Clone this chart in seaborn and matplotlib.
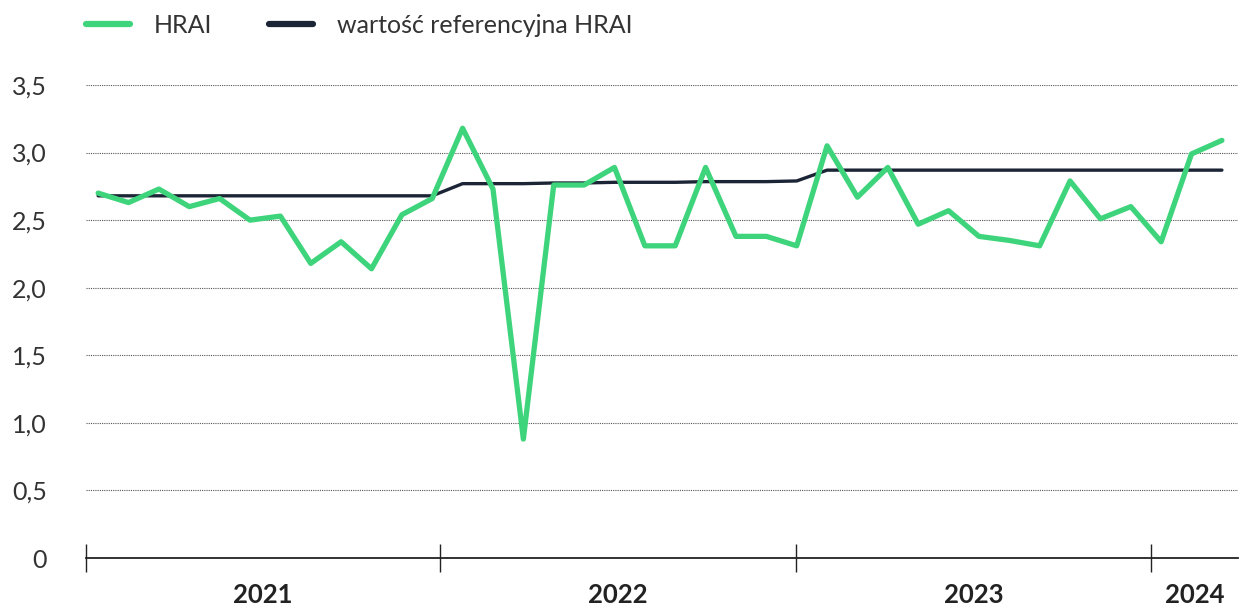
import numpy as np
import pandas as pd
import seaborn as sns
import matplotlib.pyplot as plt
from matplotlib.lines import Line2D

# monthly HRAI values, Jan 2021 - Feb 2024
hrai = [2.70, 2.63, 2.73, 2.60, 2.66, 2.50, 2.53, 2.18, 2.34, 2.14, 2.54, 2.66,
        3.18, 2.73, 0.88, 2.76, 2.76, 2.89, 2.31, 2.31, 2.89, 2.38, 2.38, 2.31,
        3.05, 2.67, 2.89, 2.47, 2.57, 2.38, 2.35, 2.31, 2.79, 2.51, 2.60, 2.34,
        2.99, 3.09]
ref = [2.68] * 12 + \
      [2.77, 2.77, 2.77, 2.775, 2.775, 2.78, 2.78, 2.78, 2.785, 2.785, 2.785, 2.79] + \
      [2.87] * 14
years = ['2021', '2022', '2023', '2024']
year_edges = [-0.4, 11.26, 22.98, 34.66, 37.53]
yticks = [0, 0.5, 1.0, 1.5, 2.0, 2.5, 3.0, 3.5]
ytick_labels = ['0', '0,5', '1,0', '1,5', '2,0', '2,5', '3,0', '3,5']

green = '#3ed47b'
navy = '#1c2536'

df = pd.DataFrame({'month': np.arange(len(hrai)), 'HRAI': hrai, 'ref': ref})

sns.set_style('white')
plt.rcParams['font.family'] = ['Lato', 'DejaVu Sans']

fig = plt.figure(figsize=(12.43, 6.06), dpi=100)
ax = fig.add_axes([86 / 1243, 48 / 606, (1238 - 86) / 1243, (558 - 85) / 606])

sns.lineplot(data=df, x='month', y='ref', ax=ax, color=navy, linewidth=2.4)
sns.lineplot(data=df, x='month', y='HRAI', ax=ax, color=green, linewidth=3.8)

ax.set_xlim(year_edges[0], year_edges[-1])
ax.set_ylim(0, 3.5)

# dotted horizontal grid
for v in yticks[1:]:
    ax.axhline(v, color='#555555', linestyle=(0, (1, 1)), linewidth=0.8, zorder=0)

sns.despine(ax=ax, left=True, top=True, right=True)
ax.spines['bottom'].set_color('#222222')
ax.spines['bottom'].set_linewidth(1.3)

ax.set_yticks(yticks)
ax.set_yticklabels(ytick_labels, fontsize=18, color='#333333')
ax.tick_params(axis='y', length=0, pad=28)

# year separators as major ticks, year names as minor tick labels
ax.set_xticks(year_edges[:-1])
ax.set_xticklabels([''] * (len(year_edges) - 1))
ax.tick_params(axis='x', which='major', bottom=True, direction='inout',
               length=20, width=1.0, color='#222222')
centers = [(year_edges[i] + year_edges[i + 1]) / 2 for i in range(len(years))]
ax.set_xticks(centers, minor=True)
ax.set_xticklabels(years, minor=True, fontsize=18.5, fontweight='bold', color='#222222')
ax.tick_params(axis='x', which='minor', bottom=True, length=0, pad=18)

ax.set_xlabel('')
ax.set_ylabel('')

handles = [Line2D([], [], color=green, linewidth=4.5),
           Line2D([], [], color=navy, linewidth=4.5)]
ax.legend(handles, ['HRAI', 'wartość referencyjna HRAI'], loc='lower left',
          bbox_to_anchor=(0.0, 1.102), ncol=2, frameon=False, fontsize=18,
          handlelength=1.75, handletextpad=0.95, columnspacing=2.3,
          borderpad=0, borderaxespad=0, labelcolor='#333333')

plt.savefig('out.png', dpi=100)
